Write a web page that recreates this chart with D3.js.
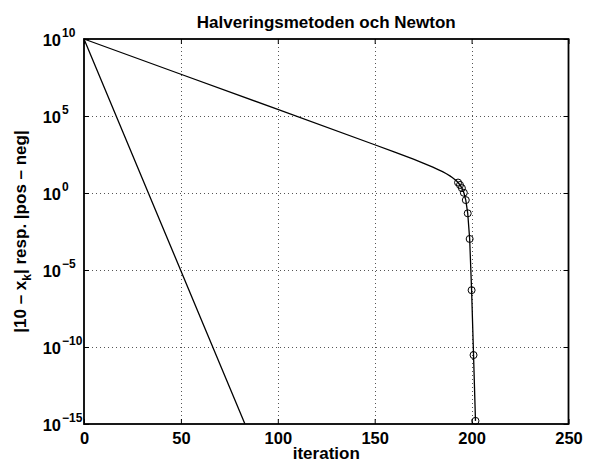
<!DOCTYPE html>
<html>
<head>
<meta charset="utf-8">
<script src="https://cdn.jsdelivr.net/npm/d3@7/dist/d3.min.js"></script>
<style>
  html, body { margin: 0; padding: 0; background: #fff; }
  svg { display: block; }
  text { font-family: "Liberation Sans", Arial, Helvetica, sans-serif; font-weight: bold; fill: #000; }
</style>
</head>
<body>
<svg id="chart" width="591" height="462"></svg>
<script>
// ---- data ----
const bisectionIter = [0, 20, 40, 60, 83];
const bisectionErr  = [1e10, 9.54e3, 9.09e-3, 8.67e-9, 1.03e-15];

const newtonIter = [0, 50, 100, 150, 160, 170, 175, 180, 183, 185, 187, 189, 190, 191, 192,
                    193, 194, 195, 196, 197, 198, 199, 200, 201, 202];
const newtonErr  = [1e10, 5.15e7, 2.66e5, 1358, 468, 156, 88, 48, 32, 24.3, 17.8, 12.5, 10.2, 8.2, 6.4,
                    4.77, 3.32, 2.06, 1.04, 0.347, 0.048, 1.04e-3, 4.9e-7, 3e-11, 1.6e-15];
const markedIter = [193, 194, 195, 196, 197, 198, 199, 200, 201, 202];

const xTicks = [0, 50, 100, 150, 200, 250];
const yExponents = [10, 5, 0, -5, -10, -15];

const titleText = "Halveringsmetoden och Newton";
const xLabelText = "iteration";

// ---- layout ----
const svg = d3.select("#chart");
const L = 84, R = 568.5, T = 39, B = 424;
const FS = 17, TFS = 16.5;

const x = d3.scaleLinear().domain([0, 250]).range([L, R]);
const y = d3.scaleLog().domain([1e-15, 1e10]).range([B, T]);

// grid
const grid = svg.append("g").attr("stroke", "#555").attr("stroke-width", 1)
  .attr("stroke-dasharray", "1,3").attr("shape-rendering", "crispEdges");
xTicks.slice(1, -1).forEach(t => {
  grid.append("line").attr("x1", Math.round(x(t)) + 0.5).attr("x2", Math.round(x(t)) + 0.5)
    .attr("y1", T).attr("y2", B);
});
yExponents.slice(1, -1).forEach(e => {
  grid.append("line").attr("y1", Math.round(y(Math.pow(10, e))) + 0.5).attr("y2", Math.round(y(Math.pow(10, e))) + 0.5)
    .attr("x1", L).attr("x2", R);
});

// axes with inward ticks
const tickLen = 5;
const xAxisB = d3.axisBottom(x).tickValues(xTicks).tickSize(-tickLen).tickPadding(6).tickFormat(d3.format("d"));
const gx = svg.append("g").attr("transform", `translate(0,${B})`).call(xAxisB);
gx.select(".domain").remove();
gx.selectAll(".tick line").attr("stroke", "#000").attr("stroke-width", 1);
gx.selectAll(".tick text").attr("font-size", TFS).attr("dy", "0.82em")
  .style("font-family", '"Liberation Sans", Arial, sans-serif').style("font-weight", "bold");

const xAxisT = d3.axisTop(x).tickValues(xTicks).tickSize(-tickLen).tickFormat("");
const gxt = svg.append("g").attr("transform", `translate(0,${T})`).call(xAxisT);
gxt.select(".domain").remove();

const yTickVals = yExponents.map(e => Math.pow(10, e));
const yAxisL = d3.axisLeft(y).tickValues(yTickVals).tickSize(-tickLen).tickFormat("");
const gy = svg.append("g").attr("transform", `translate(${L},0)`).call(yAxisL);
gy.select(".domain").remove();
const yAxisR = d3.axisRight(y).tickValues(yTickVals).tickSize(-tickLen).tickFormat("");
const gyr = svg.append("g").attr("transform", `translate(${R},0)`).call(yAxisR);
gyr.select(".domain").remove();

// y tick labels 10^e : base "10" at a fixed position, exponent hanging to the right
const baseRight = 61;
yExponents.forEach(e => {
  const yy = y(Math.pow(10, e));
  svg.append("text").attr("x", baseRight).attr("y", yy + 7)
    .attr("text-anchor", "end").attr("font-size", TFS).text("10");
  svg.append("text").attr("x", baseRight + 1).attr("y", yy - 2)
    .attr("text-anchor", "start").attr("font-size", 12)
    .text(e < 0 ? "\u2212" + (-e) : String(e));
});

// box
svg.append("rect").attr("x", L).attr("y", T).attr("width", R - L).attr("height", B - T)
  .attr("fill", "none").attr("stroke", "#000").attr("stroke-width", 1.8);

// lines
const line = d3.line().x(d => x(d[0])).y(d => y(d[1]));
const plotG = svg.append("g");
plotG.append("path").datum(bisectionIter.map((k, i) => [k, bisectionErr[i]]))
  .attr("d", line).attr("fill", "none").attr("stroke", "#000").attr("stroke-width", 1.3);
const newtonData = newtonIter.map((k, i) => [k, newtonErr[i]]);
plotG.append("path").datum(newtonData)
  .attr("d", line).attr("fill", "none").attr("stroke", "#000").attr("stroke-width", 1.3);
plotG.selectAll("circle").data(newtonData.filter(d => markedIter.includes(d[0])))
  .enter().append("circle")
  .attr("cx", d => x(d[0])).attr("cy", d => y(d[1])).attr("r", 3.5)
  .attr("fill", "none").attr("stroke", "#000").attr("stroke-width", 1);

// labels
svg.append("text").attr("x", (L + R) / 2).attr("y", 28).attr("text-anchor", "middle")
  .attr("font-size", FS).text(titleText);
svg.append("text").attr("x", (L + R) / 2).attr("y", 459).attr("text-anchor", "middle")
  .attr("font-size", FS).text(xLabelText);
const yl = svg.append("text").attr("transform", `translate(26,${(T + B) / 2}) rotate(-90)`)
  .attr("text-anchor", "middle").attr("font-size", FS);
yl.append("tspan").text("|10 \u2013 x");
yl.append("tspan").attr("dy", 5).attr("font-size", 12).text("k");
yl.append("tspan").attr("dy", -5).text("| resp. |pos \u2013 neg|");
</script>
</body>
</html>
